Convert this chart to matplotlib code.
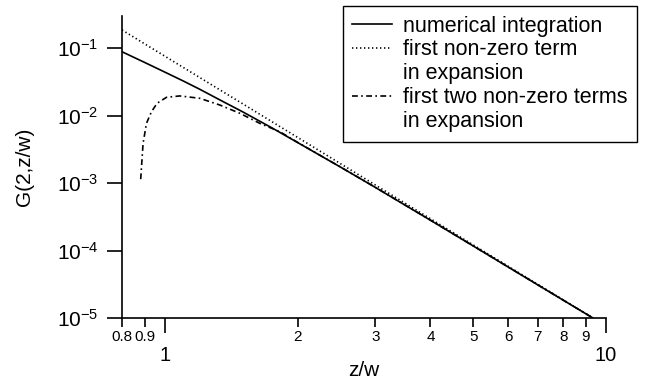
import matplotlib
matplotlib.use("Agg")
import matplotlib.pyplot as plt
from matplotlib.lines import Line2D
from matplotlib.ticker import FixedLocator, FixedFormatter, NullLocator

plt.rcParams['font.family'] = ['Liberation Sans', 'DejaVu Sans']
plt.rcParams['mathtext.default'] = 'regular'

# numerical integration (solid)
z_num = [0.8, 0.9, 1.0, 1.1, 1.2, 1.35, 1.5, 1.75, 2.0, 2.5, 3.0, 4.0, 5.0, 7.0, 9.34]
g_num = [0.088, 0.0612, 0.044, 0.0326, 0.0245, 0.0163, 0.01138, 0.00655, 0.00398,
         0.001727, 0.000861, 0.000281, 0.0001168, 3.10e-5, 1.0e-5]

# first non-zero term (dotted)
z_one = [0.8, 1.0, 2.0, 5.0, 9.34]
g_one = [0.185, 0.0758, 0.00474, 0.000121, 1.0e-5]

# first two non-zero terms (dash-dot)
z_two = [0.882, 0.893, 0.909, 0.933, 0.961, 1.009, 1.081, 1.2, 1.333, 1.479, 1.642,
         1.823, 2.0, 2.5, 3.0, 4.0, 5.0, 7.0, 9.34]
g_two = [0.00114, 0.00387, 0.00766, 0.01138, 0.0152, 0.0186, 0.0195, 0.018, 0.0143,
         0.0108, 0.00766, 0.00575, 0.0040, 0.00173, 0.000865, 0.000282, 0.0001172,
         3.11e-5, 1.0e-5]

x_major = [1, 10]
x_minor = [0.8, 0.9, 2, 3, 4, 5, 6, 7, 8, 9]
y_major = [1e-5, 1e-4, 1e-3, 1e-2, 1e-1]
y_labels = ['$10^{-5}$', '$10^{-4}$', '$10^{-3}$', '$10^{-2}$', '$10^{-1}$']

fig = plt.figure(figsize=(6.45, 3.88), dpi=100)
ax = fig.add_axes([122 / 645, 1 - 318 / 388, 484 / 645, 302 / 388])

lw = 1.2
ax.plot(z_num, g_num, color='black', lw=lw, linestyle='-')
ax.plot(z_one, g_one, color='black', lw=lw, linestyle=(0, (0.8, 1.6)))
ax.plot(z_two, g_two, color='black', lw=lw, linestyle=(0, (3.5, 2, 1, 2)))

ax.set_xscale('log')
ax.set_yscale('log')
ax.set_xlim(0.8, 10)
ax.set_ylim(1e-5, 0.298)

ax.spines['top'].set_visible(False)
ax.spines['right'].set_visible(False)
for s in ['left', 'bottom']:
    ax.spines[s].set_linewidth(1.2)

ax.xaxis.set_major_locator(FixedLocator(x_major))
ax.xaxis.set_major_formatter(FixedFormatter([str(v) for v in x_major]))
ax.xaxis.set_minor_locator(FixedLocator(x_minor))
ax.xaxis.set_minor_formatter(FixedFormatter([str(v) for v in x_minor]))
ax.yaxis.set_major_locator(FixedLocator(y_major))
ax.yaxis.set_major_formatter(FixedFormatter(y_labels))
ax.yaxis.set_minor_locator(NullLocator())

ax.tick_params(axis='x', which='major', direction='out', length=11, width=1.2,
               labelsize=14.5, pad=9)
ax.tick_params(axis='x', which='minor', direction='out', length=6.5, width=1.2,
               labelsize=11, pad=2)
ax.tick_params(axis='y', which='major', direction='out', length=11, width=1.2,
               labelsize=15, pad=6)

ax.set_xlabel('z/w', fontsize=15, labelpad=-3)
ax.set_ylabel('G(2,z/w)', fontsize=15, labelpad=16)

blank = Line2D([], [], linestyle='none')
handles = [
    Line2D([], [], color='black', lw=lw, linestyle='-'),
    Line2D([], [], color='black', lw=lw, linestyle=(0, (0.8, 1.6))),
    blank,
    Line2D([], [], color='black', lw=lw, linestyle=(0, (3.5, 2, 1, 2))),
    blank,
]
labels = ['numerical integration', 'first non-zero term', 'in expansion',
          'first two non-zero terms', 'in expansion']
leg = ax.legend(handles, labels, loc='upper right',
                bbox_to_anchor=(637 / 645, 1 - 6 / 388), bbox_transform=fig.transFigure,
                borderaxespad=0, fontsize=15.5, frameon=True, fancybox=False,
                edgecolor='black', framealpha=1, handlelength=1.85, handletextpad=0.5,
                labelspacing=0.13, borderpad=0.45)
leg.get_frame().set_linewidth(1.0)

fig.savefig('out.png', dpi=100)
